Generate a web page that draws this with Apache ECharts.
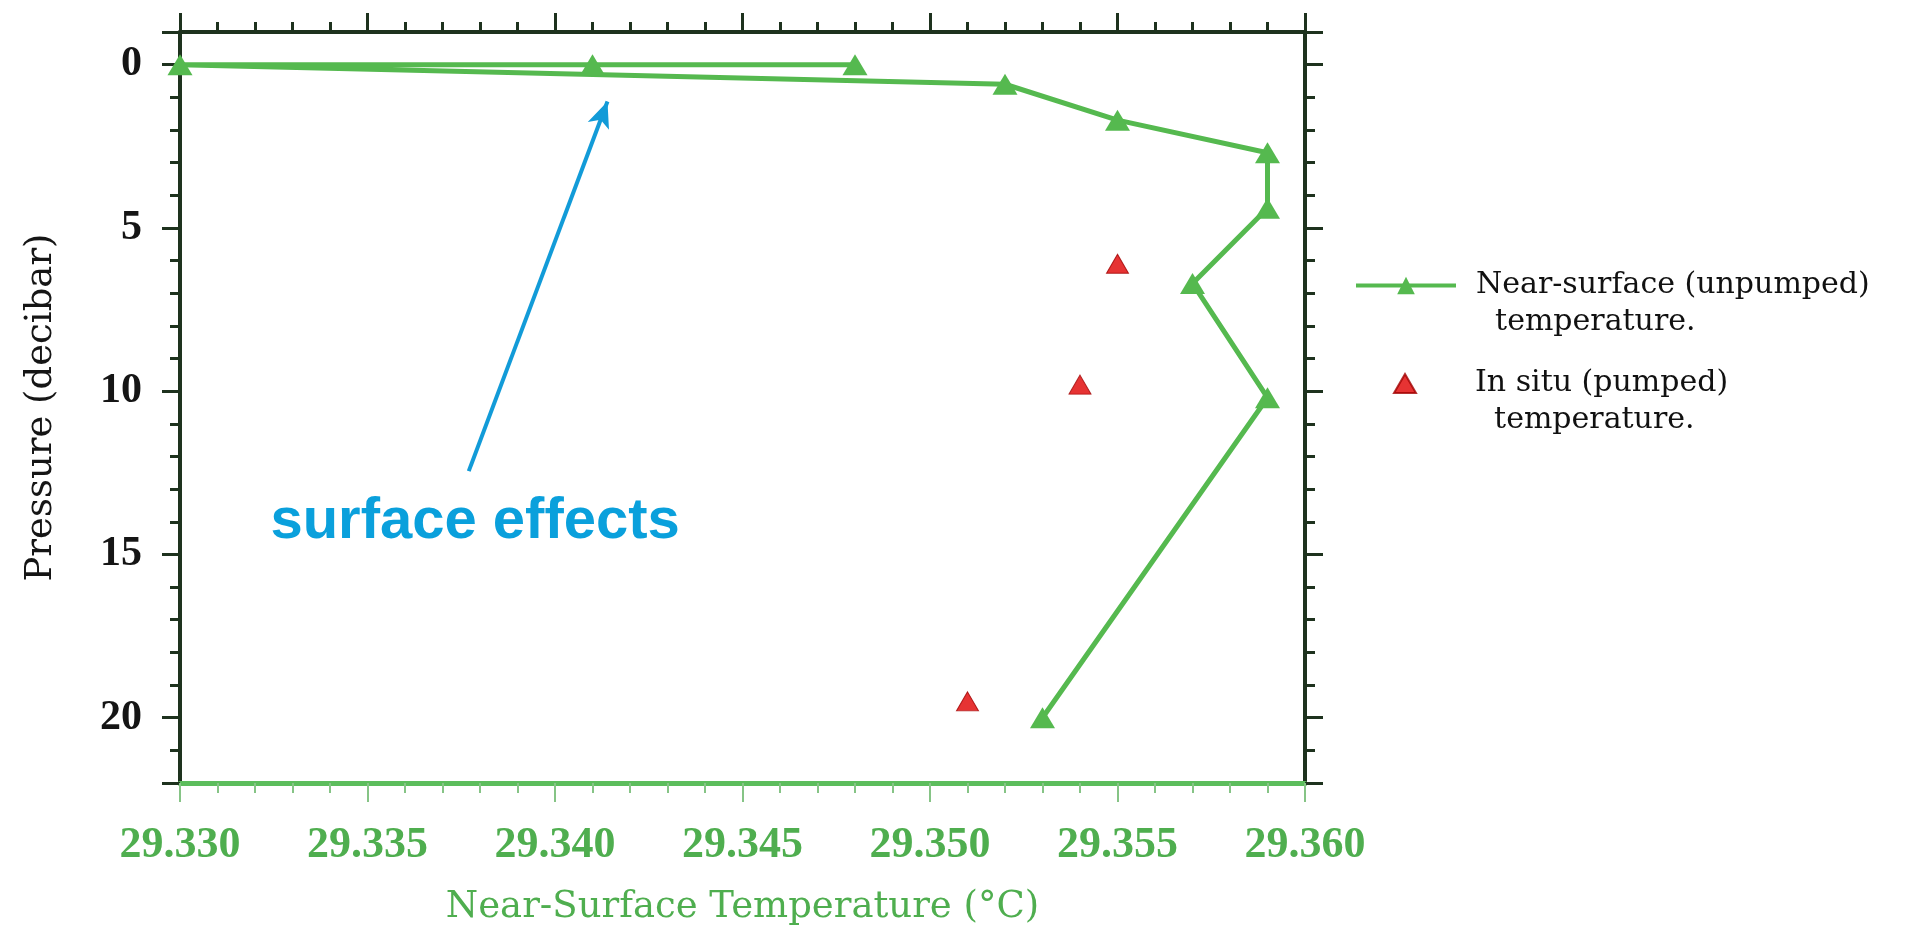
<!DOCTYPE html>
<html>
<head>
<meta charset="utf-8">
<script src="https://cdn.jsdelivr.net/npm/echarts@6/dist/echarts.min.js"></script>
<style>
html,body{margin:0;padding:0;background:#fff;}
#chart{width:1926px;height:927px;}
</style>
</head>
<body>
<div id="chart"></div>
<script>
// Near-surface (unpumped) profile: [temperature °C, pressure dbar] in drawing order
const nearSurface = [
  [29.348, 0.0], [29.341, 0.0], [29.330, 0.0], [29.352, 0.6], [29.355, 1.7],
  [29.359, 2.7], [29.359, 4.4], [29.357, 6.7], [29.359, 10.2], [29.353, 20.0]
];
// In situ (pumped) samples
const inSitu = [[29.355, 6.1], [29.354, 9.8], [29.351, 19.5]];

const xMin = 29.330, xMax = 29.360, xStep = 0.005;
const yMin = -1, yMax = 22;
const seriesNames = ['Near-surface (unpumped)', 'In situ (pumped)'];
const legendSecondLine = 'temperature.';
const xTitle = 'Near-Surface Temperature (°C)';
const yTitle = 'Pressure (decibar)';
// annotation (data space)
const arrowFrom = [29.3377, 12.45];
const arrowTo = [29.3414, 1.13];
const noteAt = [29.33787, 14.0];
const noteText = 'surface effects';

const GREEN = '#55b94f';
const DARK = '#1e321e';
const SERIF = 'DejaVu Serif';
const TIMES = 'Liberation Serif';

const chart = echarts.init(document.getElementById('chart'));

const darkX = {
  type: 'value', position: 'top', min: xMin, max: xMax, interval: xStep,
  axisLine: {show: true, onZero: false, lineStyle: {color: DARK, width: 4}},
  axisTick: {show: true, inside: false, length: 19, lineStyle: {color: DARK, width: 3}},
  minorTick: {show: true, splitNumber: 5, length: 10, lineStyle: {color: DARK, width: 3}},
  axisLabel: {show: false}, splitLine: {show: false}
};
const yBase = {
  type: 'value', inverse: true, min: yMin, max: yMax, splitNumber: 5,
  axisLine: {show: true, onZero: false, lineStyle: {color: DARK, width: 4}},
  axisTick: {show: true, inside: false, length: 18, lineStyle: {color: DARK, width: 3}},
  minorTick: {show: true, splitNumber: 5, length: 10, lineStyle: {color: DARK, width: 3}},
  splitLine: {show: false}
};
const legendText = {color: '#111', fontFamily: SERIF, fontSize: 30, lineHeight: 37};

chart.setOption({
  animation: false,
  backgroundColor: '#fff',
  grid: {left: 180, right: 621, top: 32, bottom: 144, containLabel: false, outerBoundsMode: 'none'},
  xAxis: [
    {
      type: 'value', position: 'bottom', min: xMin, max: xMax, interval: xStep,
      axisLine: {show: true, onZero: false, lineStyle: {color: '#5cbd5c', width: 5}},
      axisTick: {show: true, inside: false, length: 19, lineStyle: {color: '#86c486', width: 2}},
      minorTick: {show: true, splitNumber: 5, length: 10, lineStyle: {color: '#86c486', width: 2}},
      axisLabel: {color: '#4fae4f', fontFamily: TIMES, fontWeight: 'bold', fontSize: 44, margin: 41,
        formatter: v => v.toFixed(3), showMinLabel: true, showMaxLabel: true},
      splitLine: {show: false},
      name: xTitle, nameLocation: 'middle', nameGap: 106,
      nameTextStyle: {color: '#4fae4f', fontFamily: SERIF, fontSize: 37}
    },
    darkX
  ],
  yAxis: [
    Object.assign({}, yBase, {
      position: 'left',
      axisLabel: {color: '#151515', fontFamily: TIMES, fontWeight: 'bold', fontSize: 42, margin: 38,
        showMinLabel: false, showMaxLabel: false,
        formatter: v => (v % 5 === 0 ? String(v) : '')},
      name: yTitle, nameLocation: 'middle', nameGap: 120, nameRotate: 90,
      nameTextStyle: {color: '#151515', fontFamily: SERIF, fontSize: 37}
    }),
    Object.assign({}, yBase, {position: 'right', axisLabel: {show: false}})
  ],
  legend: [
    {
      data: [seriesNames[0]], orient: 'vertical', left: 1354, top: 230, padding: 0,
      itemWidth: 100, itemHeight: 22, selectedMode: false,
      lineStyle: {width: 4},
      formatter: n => ' \n' + n + '\n  ' + legendSecondLine,
      textStyle: Object.assign({padding: [0, 0, 0, 15]}, legendText)
    },
    {
      data: [seriesNames[1]], orient: 'vertical', left: 1393, top: 328, padding: 0,
      itemWidth: 22, itemHeight: 19, selectedMode: false,
      formatter: n => ' \n' + n + '\n  ' + legendSecondLine,
      textStyle: Object.assign({padding: [0, 0, 0, 54]}, legendText)
    }
  ],
  series: [
    {
      name: seriesNames[0], type: 'line', data: nearSurface,
      symbol: 'triangle', symbolSize: [25, 21], showAllSymbol: true,
      lineStyle: {color: GREEN, width: 5}, itemStyle: {color: GREEN},
      emphasis: {disabled: true}, z: 3,
      markLine: {
        silent: true, symbol: ['none', 'arrow'], symbolSize: [17, 26],
        lineStyle: {color: '#129bd8', width: 4, type: 'solid'},
        label: {show: false},
        data: [[{coord: arrowFrom}, {coord: arrowTo}]]
      },
      markPoint: {
        silent: true, symbol: 'circle', symbolSize: 0,
        label: {show: true, position: 'inside', formatter: noteText, color: '#0aa0dc',
          fontFamily: 'Liberation Sans', fontWeight: 'bold', fontSize: 58},
        data: [{coord: noteAt}]
      }
    },
    {
      name: seriesNames[1], type: 'scatter', data: inSitu,
      symbol: 'triangle', symbolSize: [22, 19],
      itemStyle: {color: '#e00000', borderColor: '#a00000', borderWidth: 1},
      emphasis: {disabled: true}, z: 4
    }
  ]
});
</script>
</body>
</html>
